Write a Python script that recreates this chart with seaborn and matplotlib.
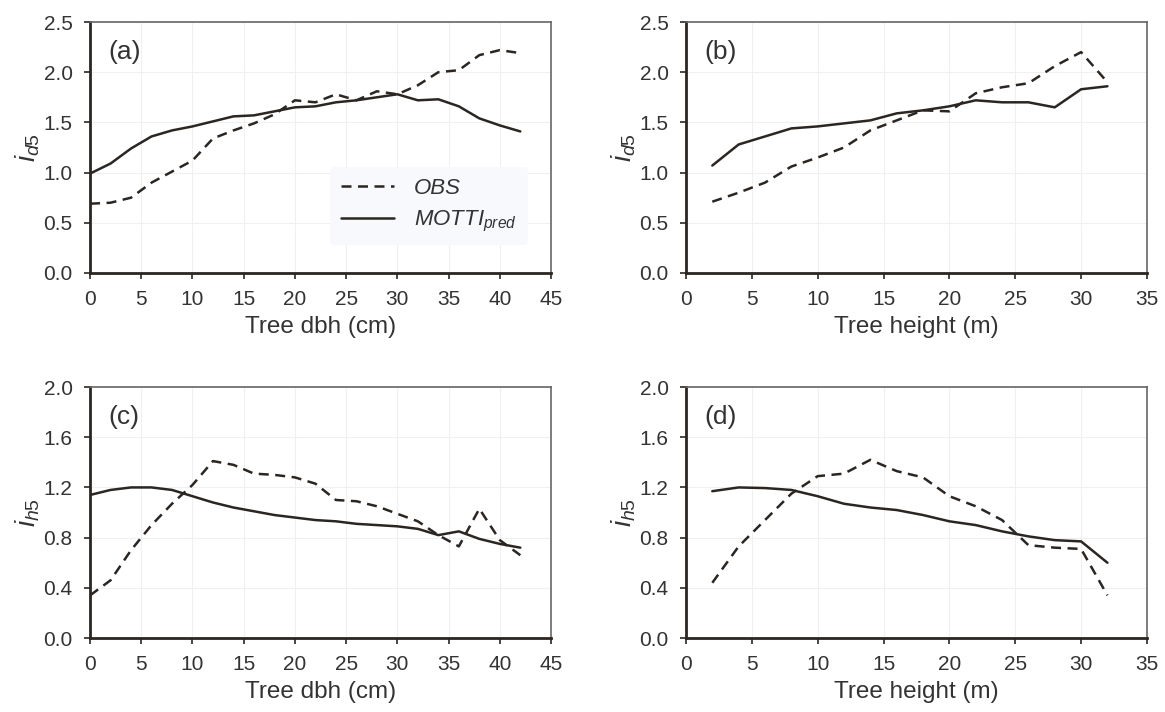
import numpy as np
import pandas as pd
import seaborn as sns
from matplotlib import pyplot as plt

# x classes
dbh = list(range(0, 43, 2))
height = list(range(2, 33, 2))

# (a) id5 vs dbh
id5_dbh_obs = [0.69, 0.70, 0.75, 0.90, 1.01, 1.12, 1.34, 1.42, 1.49, 1.58, 1.72,
               1.70, 1.78, 1.72, 1.81, 1.78, 1.87, 2.00, 2.02, 2.17, 2.22, 2.19]
id5_dbh_motti = [0.99, 1.09, 1.24, 1.36, 1.42, 1.46, 1.51, 1.56, 1.57, 1.61, 1.65,
                 1.66, 1.70, 1.72, 1.75, 1.78, 1.72, 1.73, 1.66, 1.54, 1.47, 1.41]

# (b) id5 vs height
id5_h_obs = [0.71, 0.80, 0.90, 1.06, 1.15, 1.25, 1.42, 1.52, 1.62, 1.61, 1.79,
             1.85, 1.89, 2.06, 2.20, 1.90]
id5_h_motti = [1.07, 1.28, 1.36, 1.44, 1.46, 1.49, 1.52, 1.59, 1.62, 1.66, 1.72,
               1.70, 1.70, 1.65, 1.83, 1.86]

# (c) ih5 vs dbh
ih5_dbh_obs = [0.34, 0.46, 0.70, 0.90, 1.07, 1.22, 1.41, 1.38, 1.31, 1.30, 1.28,
               1.23, 1.10, 1.09, 1.05, 0.99, 0.93, 0.82, 0.73, 1.03, 0.78, 0.66]
ih5_dbh_motti = [1.14, 1.18, 1.20, 1.20, 1.18, 1.13, 1.08, 1.04, 1.01, 0.98, 0.96,
                 0.94, 0.93, 0.91, 0.90, 0.89, 0.87, 0.82, 0.85, 0.79, 0.75, 0.72]

# (d) ih5 vs height
ih5_h_obs = [0.44, 0.73, 0.94, 1.15, 1.29, 1.31, 1.42, 1.33, 1.28, 1.13, 1.05,
             0.94, 0.74, 0.72, 0.71, 0.34]
ih5_h_motti = [1.17, 1.20, 1.195, 1.18, 1.13, 1.07, 1.04, 1.02, 0.98, 0.93, 0.90,
               0.85, 0.81, 0.78, 0.77, 0.60]

sns.set_theme(style="white")
plt.rcParams['font.family'] = ['Liberation Sans', 'DejaVu Sans']
plt.rcParams['mathtext.fontset'] = 'custom'
plt.rcParams['mathtext.rm'] = 'Liberation Sans'
plt.rcParams['mathtext.it'] = 'Liberation Sans:italic'

ink = '#2b2622'
txt = '#333333'

fig = plt.figure(figsize=(11.65, 7.12), dpi=100)
w, h = 0.3957, 0.3525
axes = [fig.add_axes([0.0773, 0.6166, w, h]),
        fig.add_axes([0.5888, 0.6166, w, h]),
        fig.add_axes([0.0773, 0.1039, w, h]),
        fig.add_axes([0.5888, 0.1039, w, h])]

panels = [
    (dbh, id5_dbh_obs, id5_dbh_motti, '(a)', r'$i_{d5}$', 'Tree dbh (cm)', 45, 5, 2.5, 0.5),
    (height, id5_h_obs, id5_h_motti, '(b)', r'$i_{d5}$', 'Tree height (m)', 35, 5, 2.5, 0.5),
    (dbh, ih5_dbh_obs, ih5_dbh_motti, '(c)', r'$i_{h5}$', 'Tree dbh (cm)', 45, 5, 2.0, 0.4),
    (height, ih5_h_obs, ih5_h_motti, '(d)', r'$i_{h5}$', 'Tree height (m)', 35, 5, 2.0, 0.4),
]

for ax, (x, obs, motti, tag, ylab, xlab, xmax, xstep, ymax, ystep) in zip(axes, panels):
    df = pd.DataFrame({
        'x': list(x) * 2,
        'y': obs + motti,
        'series': ['OBS'] * len(x) + ['MOTTI'] * len(x),
    })
    sns.lineplot(data=df, x='x', y='y', style='series',
                 dashes={'OBS': (4, 2.6), 'MOTTI': ''},
                 color=ink, linewidth=1.8, ax=ax, legend=False)
    ax.set_xlim(0, xmax)
    ax.set_ylim(0, ymax)
    ax.set_xticks(np.arange(0, xmax + 0.1, xstep))
    ax.set_yticks(np.arange(0, ymax + 0.01, ystep))
    ax.yaxis.set_major_formatter(plt.FormatStrFormatter('%.1f'))
    ax.grid(True, color='#f0f0f0', linewidth=0.8)
    ax.set_axisbelow(True)
    ax.tick_params(direction='out', length=4.5, width=1.2, color=ink,
                   labelsize=15, labelcolor=txt, bottom=True, left=True, pad=8)
    for s in ['left', 'bottom']:
        ax.spines[s].set_color(ink)
        ax.spines[s].set_linewidth(2)
    for s in ['top', 'right']:
        ax.spines[s].set_color('#666666')
        ax.spines[s].set_linewidth(1.2)
    ax.set_xlabel(xlab, fontsize=17.5, color=txt, labelpad=5)
    ax.set_ylabel(ylab, fontsize=20, color=txt, labelpad=1)
    ax.text(0.04, 0.88, tag, transform=ax.transAxes, fontsize=19,
            color=txt, va='center', ha='left')

# legend in panel (a)
ax = axes[0]
h1, = ax.plot([], [], color=ink, linewidth=1.8, dashes=(4, 2.6))
h2, = ax.plot([], [], color=ink, linewidth=1.8)
leg = ax.legend([h1, h2], ['OBS', r'$MOTTI_{pred}$'], loc='lower right',
                bbox_to_anchor=(0.95, 0.11), frameon=True,
                handlelength=2.4, handletextpad=0.9, labelspacing=0.45,
                borderpad=0.5, borderaxespad=0,
                prop={'style': 'italic', 'size': 16})
leg.get_frame().set_facecolor('#f7f9fc')
leg.get_frame().set_edgecolor('none')
leg.get_frame().set_alpha(1)
for t in leg.get_texts():
    t.set_color(txt)

plt.savefig('out.png', dpi=100)
